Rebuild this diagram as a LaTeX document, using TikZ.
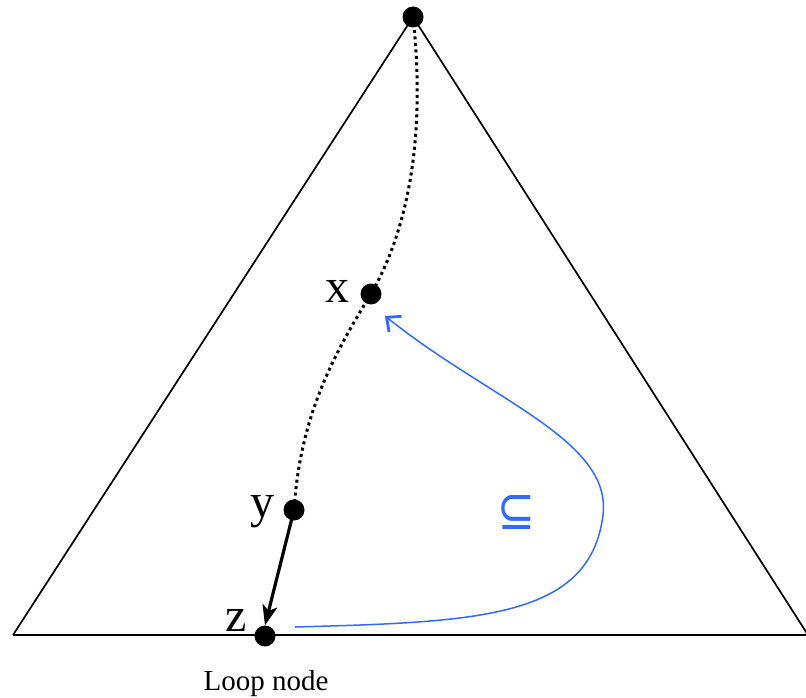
\documentclass[tikz,border=0pt]{standalone}
\usepackage{fontspec}
\setmainfont{Liberation Serif}
\newfontfamily\symfont{DejaVu Sans}
\usetikzlibrary{arrows.meta}
\definecolor{cblue}{RGB}{50,105,255}
\begin{document}
\begin{tikzpicture}[x=1pt,y=-1pt,
  dotnode/.style={circle,fill=black,inner sep=0pt,minimum size=21pt},
  dotline/.style={line width=3pt,dash pattern=on 3pt off 3.5pt},
  lbl/.style={font=\fontsize{48}{50}\selectfont,inner sep=0pt},
]
\useasboundingbox (0,0) rectangle (806,698);
\coordinate (A) at (413,17);
\coordinate (L) at (13,635);
\coordinate (R) at (808,635);
\draw[line width=1.7pt] (L) -- (A) -- (R);
\draw[line width=1.7pt] (L) -- (R);
\node[dotnode] (top) at (413,17) {};
\node[dotnode] (x) at (371,294) {};
\node[dotnode] (y) at (294,510) {};
\node[dotnode] (z) at (265,636) {};
\draw[dotline] (top.center) .. controls (420,80) and (425,200) .. (x.center);
\draw[dotline] (x.center) .. controls (330,360) and (300,420) .. (y.center);
\draw[line width=3.2pt,-{Stealth[length=20pt,width=15pt,inset=5pt]}] (y.center) -- (z.north);
\node[lbl,anchor=base] (xl) at (337,302) {x};
\node[lbl,anchor=base] (yl) at (262,517) {y};
\node[lbl,anchor=base] (zl) at (236,631) {z};
\node[font=\fontsize{29}{31}\selectfont,inner sep=0pt,anchor=base] (loop) at (266,690) {Loop node};
\coordinate (bs) at (295,627);
\coordinate (be) at (385,316);
\draw[cblue,line width=1.5pt,-{Straight Barb[length=11pt,width=20pt,line width=2.8pt]}]
  (bs) .. controls (480,622) and (590,618) .. (603,515)
  .. controls (612,440) and (490,400) .. (be);
\node[cblue,inner sep=0pt] (sub) at (516,512) {\resizebox{38pt}{34pt}{\symfont ⊆}};
\end{tikzpicture}
\end{document}
